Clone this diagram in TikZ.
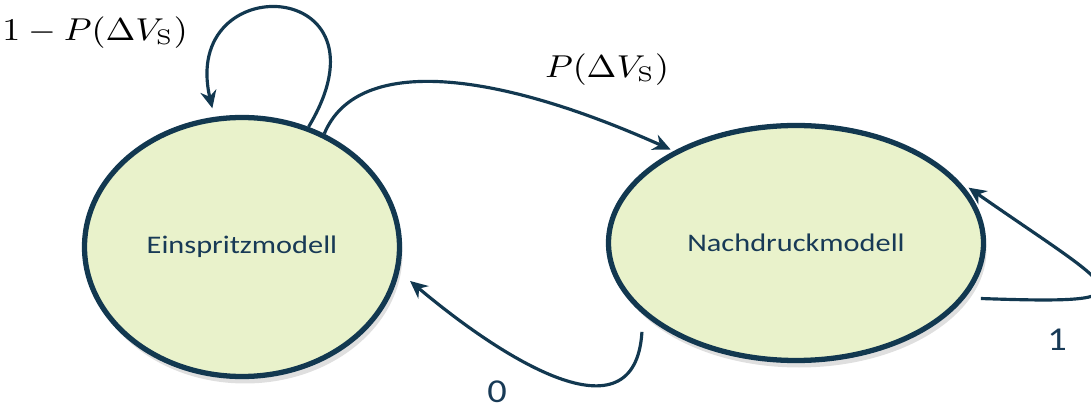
\documentclass[tikz,border=0pt]{standalone}
\usepackage{amsmath}
\usepackage{graphicx}
\usepackage[no-math]{fontspec}
\usetikzlibrary{arrows.meta,shapes.geometric,shadows}

\newfontfamily\calibri{Carlito}
\definecolor{navy}{RGB}{18,56,80}
\definecolor{statefill}{RGB}{233,242,203}
\definecolor{labtext}{RGB}{24,58,86}
% labels in the states are set wide
\newcommand{\wide}[1]{\scalebox{1.2}[1]{#1}}

\begin{document}
\begin{tikzpicture}[
  state/.style={ellipse, draw=navy, line width=1.5pt, fill=statefill, inner sep=0pt,
    drop shadow={shadow xshift=0.03cm, shadow yshift=-0.07cm, opacity=0.25},
    font=\calibri\fontsize{7.2}{9}\selectfont, text=labtext},
  trans/.style={draw=navy, line width=0.9pt, -{Stealth[length=5pt,width=4.6pt]}},
  prob/.style={font=\fontsize{9.2}{11}\selectfont, xscale=1.1},
  num/.style={font=\calibri\fontsize{9.5}{11}\selectfont, text=labtext, xscale=1.15}
]
  \useasboundingbox (0,0) rectangle (10.91,4.07);

  % the two states
  \node[state, minimum width=3.15cm, minimum height=2.59cm] (einspritz) at (2.42,1.60) {\wide{Einspritzmodell}};
  \node[state, minimum width=3.75cm, minimum height=2.35cm] (nachdruck) at (7.96,1.64) {\wide{Nachdruckmodell}};

  % stay in injection phase
  \draw[trans, shorten >=2.5pt] (einspritz.61) .. controls +(0.9,1.5) and +(-0.35,1.5) .. (einspritz.102);
  % switch to holding pressure
  \draw[trans, shorten >=1pt] (einspritz.54) .. controls +(0.31,0.75) and +(-1.9,0.85) .. (nachdruck.143);
  % back (never taken)
  \draw[trans, shorten <=5pt, shorten >=4pt] (nachdruck.205) .. controls +(-0.08,-1.3) and +(1.01,-0.85) .. (einspritz.-9);
  % stay in holding pressure
  \draw[trans, shorten <=4.5pt, shorten >=3.5pt] (nachdruck.-18) .. controls +(1.95,-0.07) and +(1.62,-1.13) .. (nachdruck.21);

  % transition probabilities
  \node[prob] (lstay) at (0.95,3.74) {$1-P(\Delta V_{\mathrm{S}})$};
  \node[prob] (lgo) at (6.07,3.37) {$P(\Delta V_{\mathrm{S}})$};
  \node[num] (lback) at (4.97,0.15) {0};
  \node[num] (lhold) at (10.57,0.67) {1};
\end{tikzpicture}
\end{document}
